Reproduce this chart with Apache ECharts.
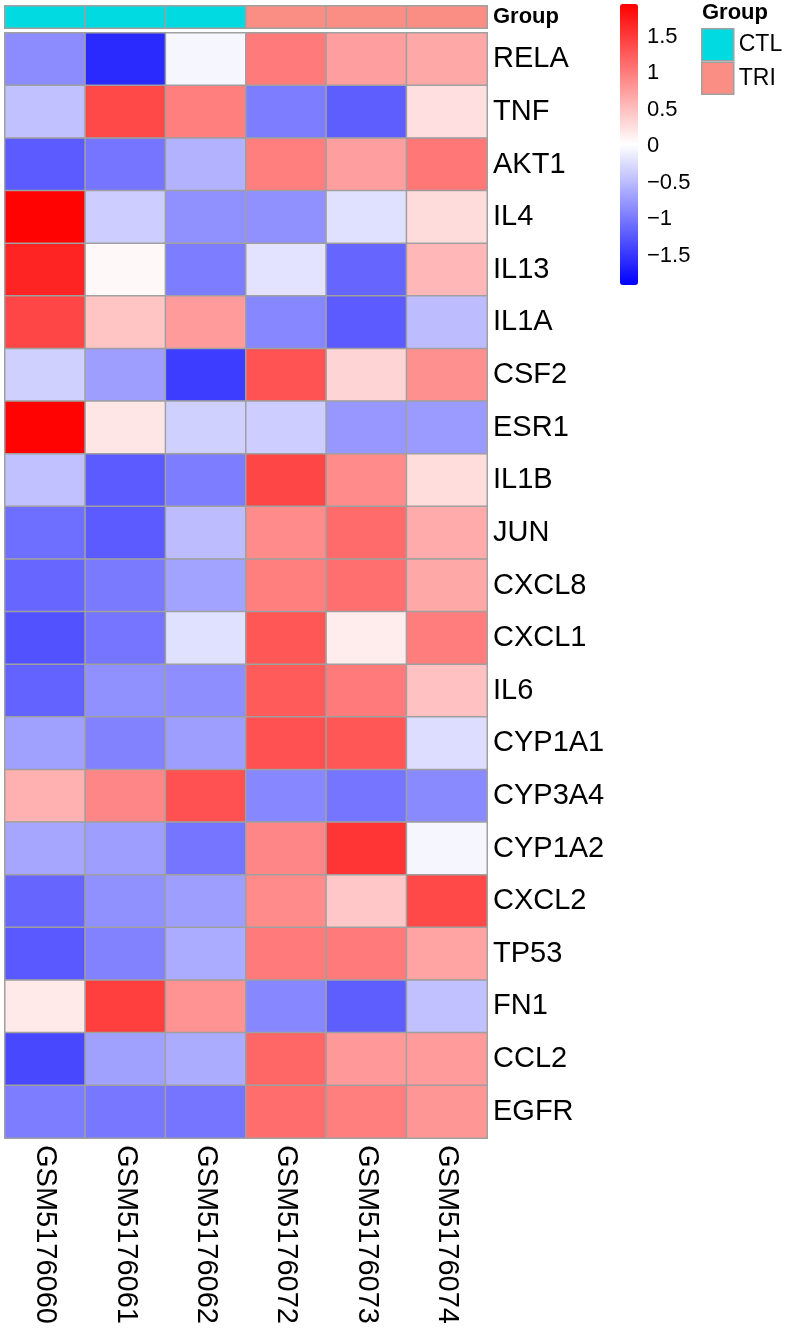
<!DOCTYPE html>
<html>
<head>
<meta charset="utf-8">
<script src="https://cdn.jsdelivr.net/npm/echarts@6/dist/echarts.min.js"></script>
<style>
  html, body { margin: 0; padding: 0; background: #fff; }
  #chart { width: 786px; height: 1332px; }
</style>
</head>
<body>
<div id="chart"></div>
<script>
// ---- data ----
const samples = ['GSM5176060', 'GSM5176061', 'GSM5176062', 'GSM5176072', 'GSM5176073', 'GSM5176074'];
const groups = ['CTL', 'CTL', 'CTL', 'TRI', 'TRI', 'TRI'];
const groupNames = ['CTL', 'TRI'];
const groupColors = ['#00DAE0', '#FA8E84'];
const genes = ['RELA', 'TNF', 'AKT1', 'IL4', 'IL13', 'IL1A', 'CSF2', 'ESR1', 'IL1B', 'JUN', 'CXCL8',
               'CXCL1', 'IL6', 'CYP1A1', 'CYP3A4', 'CYP1A2', 'CXCL2', 'TP53', 'FN1', 'CCL2', 'EGFR'];
// row-scaled expression (z-score), one array per gene, in sample order
const zRELA   = [-0.84, -1.58, -0.04,  1.03,  0.76,  0.68];
const zTNF    = [-0.44,  1.40,  1.00, -0.96, -1.19,  0.27];
const zAKT1   = [-1.21, -1.02, -0.56,  1.00,  0.76,  1.05];
const zIL4    = [ 1.93, -0.35, -0.81, -0.81, -0.21,  0.29];
const zIL13   = [ 1.68,  0.08, -0.96, -0.19, -1.13,  0.57];
const zIL1A   = [ 1.42,  0.47,  0.78, -0.88, -1.21, -0.48];
const zCSF2   = [-0.33, -0.71, -1.44,  1.33,  0.35,  0.86];
const zESR1   = [ 1.93,  0.21, -0.33, -0.35, -0.76, -0.73];
const zIL1B   = [-0.44, -1.21, -0.96,  1.42,  0.90,  0.28];
const zJUN    = [-1.06, -1.21, -0.48,  0.90,  1.15,  0.66];
const zCXCL8  = [-1.12, -0.98, -0.68,  0.99,  1.11,  0.68];
const zCXCL1  = [-1.28, -1.02, -0.21,  1.30,  0.17,  1.01];
const zIL6    = [-1.15, -0.81, -0.83,  1.26,  1.03,  0.49];
const zCYP1A1 = [-0.69, -0.92, -0.71,  1.34,  1.30, -0.23];
const zCYP3A4 = [ 0.62,  0.94,  1.34, -0.88, -1.02, -0.86];
const zCYP1A2 = [-0.65, -0.71, -1.02,  0.94,  1.56, -0.04];
const zCXCL2  = [-1.13, -0.81, -0.71,  0.90,  0.45,  1.40];
const zTP53   = [-1.23, -0.92, -0.61,  1.03,  1.03,  0.72];
const zFN1    = [ 0.19,  1.48,  0.85, -0.88, -1.19, -0.44];
const zCCL2   = [-1.36, -0.69, -0.60,  1.17,  0.80,  0.78];
const zEGFR   = [-0.96, -1.00, -1.02,  1.13,  1.00,  0.82];
const exprRows = [zRELA, zTNF, zAKT1, zIL4, zIL13, zIL1A, zCSF2, zESR1, zIL1B, zJUN, zCXCL8,
                  zCXCL1, zIL6, zCYP1A1, zCYP3A4, zCYP1A2, zCXCL2, zTP53, zFN1, zCCL2, zEGFR];
const scaleMin = -1.9, scaleMax = 1.95;
const legendTicks = [-1.5, -1, -0.5, 0, 0.5, 1, 1.5];

// ---- build ----
const heatData = [];
exprRows.forEach((row, r) => row.forEach((v, c) => heatData.push([c, r, v])));

const borderCol = '#A0A0A0';
const FONT = 'Liberation Sans, Arial, Helvetica, sans-serif';

const annotSeries = groupNames.map((g, gi) => ({
  name: g,
  type: 'heatmap',
  xAxisIndex: 1, yAxisIndex: 1,
  data: groups.map((gg, c) => gg === g ? [c, 0, gi] : null).filter(d => d),
  itemStyle: { borderColor: borderCol, borderWidth: 1.5 },
  emphasis: { disabled: true },
  silent: true
}));

const chart = echarts.init(document.getElementById('chart'), null, { renderer: 'canvas' });
chart.setOption({
  animation: false,
  backgroundColor: '#fff',
  textStyle: { fontFamily: FONT },
  title: {
    text: 'Group', left: 702, top: 2, padding: 0,
    textStyle: { fontSize: 22, fontWeight: 'bold', color: '#000', fontFamily: FONT }
  },
  legend: {
    orient: 'vertical', left: 701, top: 28, padding: 0,
    itemWidth: 32, itemHeight: 32, itemGap: 0,
    icon: 'rect', selectedMode: false,
    textStyle: { fontSize: 23, color: '#000', fontFamily: FONT },
    data: groupNames.map((g, i) => ({
      name: g,
      itemStyle: { color: groupColors[i], borderColor: borderCol, borderWidth: 1.5 }
    }))
  },
  grid: [
    { left: 5, top: 33, width: 482, height: 1105, outerBoundsMode: 'none' },
    { left: 5, top: 6, width: 482, height: 22, outerBoundsMode: 'none' },
    { left: 620, top: 4, width: 18, height: 281, outerBoundsMode: 'none' }
  ],
  xAxis: [
    {
      type: 'category', gridIndex: 0, data: samples, position: 'bottom',
      axisLine: { show: false }, axisTick: { show: false }, splitLine: { show: false },
      axisLabel: { rotate: -90, fontSize: 29, color: '#000', margin: 7, fontFamily: FONT, interval: 0 }
    },
    {
      type: 'category', gridIndex: 1, data: samples, show: false
    },
    {
      type: 'value', gridIndex: 2, show: false, min: 0, max: 1
    }
  ],
  yAxis: [
    {
      type: 'category', gridIndex: 0, data: genes, inverse: true, position: 'right',
      axisLine: { show: false }, axisTick: { show: false }, splitLine: { show: false },
      axisLabel: { fontSize: 29, color: '#000', margin: 6, fontFamily: FONT, interval: 0 }
    },
    {
      type: 'category', gridIndex: 1, data: ['Group'], position: 'right',
      axisLine: { show: false }, axisTick: { show: false }, splitLine: { show: false },
      axisLabel: { fontSize: 22, fontWeight: 'bold', color: '#000', margin: 6, fontFamily: FONT,
                   padding: [4, 0, 0, 0] }
    },
    {
      type: 'value', gridIndex: 2, min: scaleMin, max: scaleMax, position: 'right',
      axisLine: { show: false }, axisTick: { show: false }, splitLine: { show: false },
      axisLabel: {
        customValues: legendTicks,
        fontSize: 22, color: '#000', margin: 9, fontFamily: FONT,
        formatter: v => String(v).replace('-', '\u2212')
      }
    }
  ],
  visualMap: [
    {
      type: 'continuous', seriesIndex: 0, dimension: 2,
      min: scaleMin, max: scaleMax, calculable: false, hoverLink: false,
      left: 620, top: 4, padding: 0, itemWidth: 18, itemHeight: 281,
      inRange: { color: ['#0000FF', '#FFFFFF', '#FF0000'] }
    },
    {
      type: 'piecewise', show: false, seriesIndex: [1, 2], dimension: 2,
      pieces: groupNames.map((g, i) => ({ value: i, color: groupColors[i] }))
    }
  ],
  series: [
    {
      name: 'expr',
      type: 'heatmap',
      xAxisIndex: 0, yAxisIndex: 0,
      data: heatData,
      itemStyle: { borderColor: borderCol, borderWidth: 1.5 },
      emphasis: { disabled: true },
      silent: true
    }
  ].concat(annotSeries)
});
</script>
</body>
</html>
